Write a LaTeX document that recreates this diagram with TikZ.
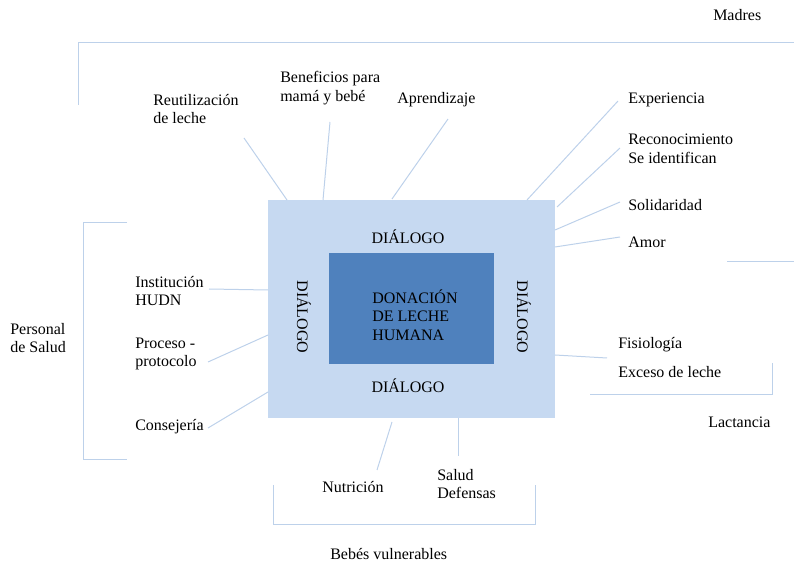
\documentclass[tikz,border=0pt]{standalone}
\usepackage{fontspec}
\setmainfont{Liberation Serif}
\definecolor{outerblue}{HTML}{C6D9F1}
\definecolor{innerblue}{HTML}{4F81BD}
\definecolor{linkblue}{HTML}{BDD1EA}
\begin{document}
\begin{tikzpicture}[x=0.75pt,y=-0.75pt,
  lbl/.style={anchor=west,inner sep=0pt,align=left,font=\fontsize{12}{14}\selectfont},
  dlg/.style={inner sep=0pt,font=\fontsize{12}{14}\selectfont},
  link/.style={draw=linkblue,line width=0.75pt}]
\useasboundingbox (0,0) rectangle (794,563);
% boxes
\node[fill=outerblue,minimum width=287*0.75pt,minimum height=218*0.75pt,inner sep=0pt,anchor=north west] (outer) at (268,200) {};
\node[fill=innerblue,minimum width=165*0.75pt,minimum height=111*0.75pt,inner sep=0pt,anchor=north west] (inner) at (329,253) {};
\node[lbl] (core) at (372,315) {DONACIÓN\\DE LECHE\\HUMANA};
\node[dlg] (dtop) at (408,237) {DIÁLOGO};
\node[dlg] (dbot) at (408,386) {DIÁLOGO};
\node[dlg,rotate=-90] (dleft) at (304,317) {DIÁLOGO};
\node[dlg,rotate=-90] (dright) at (524,317) {DIÁLOGO};
% labels
\node[lbl] (madres) at (713,15) {Madres};
\node[lbl] (reut) at (153,109) {Reutilización\\de leche};
\node[lbl] (benef) at (280,88) {Beneficios para\\mamá y bebé};
\node[lbl] (apren) at (397,100) {Aprendizaje};
\node[lbl] (exper) at (628,100) {Experiencia};
\node[lbl] (recon) at (628,149) {Reconocimiento\\Se identifican};
\node[lbl] (solid) at (628,205) {Solidaridad};
\node[lbl] (amor) at (628,242) {Amor};
\node[lbl] (instit) at (135,291) {Institución\\HUDN};
\node[lbl] (personal) at (10,338) {Personal\\de Salud};
\node[lbl] (proceso) at (135,354) {Proceso -\\protocolo};
\node[lbl] (consej) at (135,427) {Consejería};
\node[lbl] (fisio) at (618,345) {Fisiología};
\node[lbl] (exceso) at (618,372) {Exceso de leche};
\node[lbl] (lact) at (708,422) {Lactancia};
\node[lbl] (nutri) at (322,487) {Nutrición};
\node[lbl] (salud) at (437,484) {Salud\\Defensas};
\node[lbl] (bebes) at (330,554) {Bebés vulnerables};
% connector end points
\coordinate (reutA) at (244,138); \coordinate (reutB) at (287,200);
\coordinate (benA) at (330,122); \coordinate (benB) at (323,200);
\coordinate (apA) at (448,119); \coordinate (apB) at (392,199);
\coordinate (exA) at (618,101); \coordinate (exB) at (527,200);
\coordinate (reA) at (620,148); \coordinate (reB) at (557,207);
\coordinate (soA) at (620,202); \coordinate (soB) at (555,230);
\coordinate (amA) at (620,237); \coordinate (amB) at (555,247);
\coordinate (inA) at (209,289); \coordinate (inB) at (268,290);
\coordinate (prA) at (208,362); \coordinate (prB) at (268,335);
\coordinate (coA) at (208,428); \coordinate (coB) at (268,392);
\coordinate (fiA) at (607,358); \coordinate (fiB) at (555,355);
\coordinate (nuA) at (377,470); \coordinate (nuB) at (392,422);
\coordinate (saA) at (458,456); \coordinate (saB) at (458,418);
\foreach \a/\b in {reutA/reutB,benA/benB,apA/apB,exA/exB,reA/reB,soA/soB,amA/amB,inA/inB,prA/prB,coA/coB,fiA/fiB,nuA/nuB,saA/saB}
  \draw[link] (\a) -- (\b);
% brackets
\coordinate (mA) at (78,105); \coordinate (mB) at (78,43); \coordinate (mC) at (794,43);
\draw[link] (mA) -- (mB) -- (mC);
\coordinate (amorL) at (727,262); \coordinate (amorR) at (794,262);
\draw[link] (amorL) -- (amorR);
\coordinate (pA) at (127,223); \coordinate (pB) at (83,223); \coordinate (pC) at (83,460); \coordinate (pD) at (127,460);
\draw[link] (pA) -- (pB) -- (pC) -- (pD);
\coordinate (lA) at (772,363); \coordinate (lB) at (772,395); \coordinate (lC) at (590,395);
\draw[link] (lA) -- (lB) -- (lC);
\coordinate (bA) at (273,485); \coordinate (bB) at (273,525); \coordinate (bC) at (535,525); \coordinate (bD) at (535,485);
\draw[link] (bA) -- (bB) -- (bC) -- (bD);
\end{tikzpicture}
\end{document}
